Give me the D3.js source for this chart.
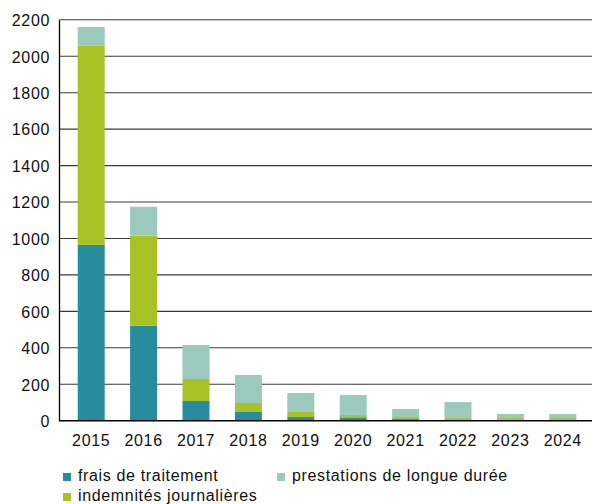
<!DOCTYPE html>
<html><head><meta charset="utf-8">
<script src="https://cdn.jsdelivr.net/npm/d3@7"></script>
<style>
body{margin:0;background:#fff;}
svg text{font-family:"Liberation Sans",Arial,Helvetica,sans-serif;fill:#111;letter-spacing:0.65px;}
</style></head>
<body>
<svg id="c" width="592" height="504"></svg>
<script>
const years = ["2015","2016","2017","2018","2019","2020","2021","2022","2023","2024"];
const fraisTraitement = [965, 521, 108, 48, 20, 15, 9, 4, 6, 6];
const indemnites = [1092, 494, 121, 49, 28, 16, 11, 11, 9, 9];
const prestations = [103, 159, 186, 154, 104, 110, 44, 87, 22, 22];
const yTicks = [0,200,400,600,800,1000,1200,1400,1600,1800,2000,2200];
const seriesNames = ["frais de traitement","indemnités journalières","prestations de longue durée"];
const colors = ["#268c9e","#a8c125","#9bc9bd"];

const rows = years.map((y,i)=>({year:y, frais:fraisTraitement[i], ind:indemnites[i], prest:prestations[i]}));
const keys = ["frais","ind","prest"];
const stacked = d3.stack().keys(keys)(rows);

const svg = d3.select("#c");
const x = d3.scaleBand().domain(years).range([65,589]).paddingInner(0.485).paddingOuter(0.2425);
const y = d3.scaleLinear().domain([0,2200]).range([420.7,19.8]);
const left = 59, right = 592;

// gridlines
svg.append("g").selectAll("line").data(yTicks.filter(t=>t>0)).join("line")
  .attr("x1",left).attr("x2",right)
  .attr("y1",d=>y(d)).attr("y2",d=>y(d))
  .attr("stroke","#3a3a3a").attr("stroke-width",1.1);

// bars
svg.append("g").selectAll("g").data(stacked).join("g")
  .attr("fill",(d,i)=>colors[i])
  .selectAll("rect").data(d=>d).join("rect")
  .attr("x",d=>x(d.data.year)).attr("width",x.bandwidth())
  .attr("y",d=>y(d[1])).attr("height",d=>y(d[0])-y(d[1]));

// y axis
const yAxis = d3.axisLeft(y).tickValues(yTicks).tickFormat(d3.format("d")).tickSize(0).tickPadding(9);
const gy = svg.append("g").attr("transform",`translate(${left},0)`).call(yAxis);
gy.select(".domain").attr("stroke","#000").attr("stroke-width",1.3);
gy.selectAll("text").attr("font-size","16px").attr("fill","#111").attr("dy","0.36em");

// baseline
svg.append("line").attr("x1",left).attr("x2",right).attr("y1",y(0)).attr("y2",y(0))
  .attr("stroke","#000").attr("stroke-width",1.6);

// x axis
const xAxis = d3.axisBottom(x).tickSize(0).tickPadding(14);
const gx = svg.append("g").attr("transform",`translate(0,${y(0)})`).call(xAxis);
gx.select(".domain").remove();
gx.selectAll("text").attr("font-size","16px").attr("fill","#111");

// legend
const legPos = [[63,473],[63,493],[277,473]];
const leg = svg.append("g").selectAll("g").data(seriesNames).join("g")
  .attr("transform",(d,i)=>`translate(${legPos[i][0]},${legPos[i][1]})`);
leg.append("rect").attr("width",8).attr("height",8).attr("fill",(d,i)=>colors[i]);
leg.append("text").attr("x",15).attr("y",8.3).attr("font-size","16px").text(d=>d);
</script>
</body></html>
